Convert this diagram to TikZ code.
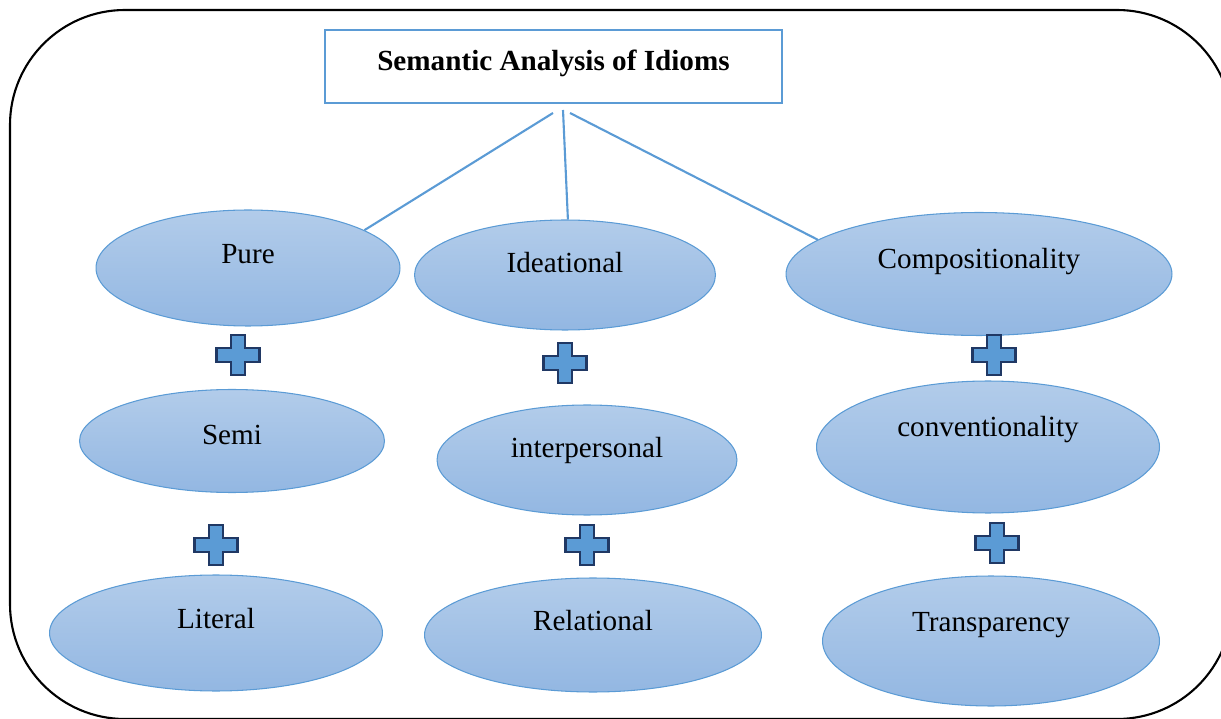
\documentclass[tikz,border=0pt]{standalone}
\usepackage{fontspec}
\setmainfont{Liberation Serif}
\usetikzlibrary{shapes.geometric}

\definecolor{edgeblue}{HTML}{5B9BD5}
\definecolor{bubtop}{HTML}{B2CCEA}
\definecolor{bubbot}{HTML}{93B7E2}
\definecolor{plusdark}{HTML}{203864}

\begin{document}
\begin{tikzpicture}[x=0.02cm,y=-0.02cm]
        \tikzset{bub/.style={draw=edgeblue, line width=0.6pt, ellipse, top color=bubtop, bottom color=bubbot, inner sep=0pt},
        lbl/.style={font=\fontsize{16.6}{20}\selectfont, inner sep=0pt},
        link/.style={draw=edgeblue, line width=1.2pt},
        title/.style={draw=edgeblue, line width=1.2pt, rectangle, minimum width=9.14cm, minimum height=1.46cm, font=\fontsize{16.6}{20}\selectfont\bfseries},
        plus/.pic={\draw[fill=edgeblue, draw=plusdark, line width=1.2pt]
            (-7,-20) -- (7,-20) -- (7,-7) -- (21.5,-7) -- (21.5,7) -- (7,7) -- (7,20)
            -- (-7,20) -- (-7,7) -- (-21.5,7) -- (-21.5,-7) -- (-7,-7) -- cycle;}
        }
        \useasboundingbox (0,0) rectangle (1221,719);
        % frame
        \draw[line width=1.2pt, rounded corners=2.3cm] (10,10) rectangle (1232,719);

        \node[title] (head) at (553.5,66.5) {};
        \node[lbl, font=\fontsize{16.6}{20}\selectfont\bfseries] (headT) at (553.5,63) {Semantic Analysis of Idioms};

%% left column
        \node[bub, minimum width=6.08cm, minimum height=2.32cm] (pure) at (248,268) {};
        \node[lbl] (pureT) at (248,254) {Pure};
        \node[bub, minimum width=6.10cm, minimum height=2.06cm] (semi) at (232,441) {};
        \node[lbl] (semiT) at (232,435) {Semi};
        \node[bub, minimum width=6.66cm, minimum height=2.32cm] (literal) at (216,633) {};
        \node[lbl] (literalT) at (216,619) {Literal};

%% middle column
        \node[bub, minimum width=6.02cm, minimum height=2.20cm] (idea) at (565,275) {};
        \node[lbl] (ideaT) at (565,263) {Ideational};
        \node[bub, minimum width=6.00cm, minimum height=2.20cm] (inter) at (587,460) {};
        \node[lbl] (interT) at (587,450) {interpersonal};
        \node[bub, minimum width=6.74cm, minimum height=2.28cm] (rel) at (593,635) {};
        \node[lbl] (relT) at (593,621) {Relational};

%% right column
        \node[bub, minimum width=7.72cm, minimum height=2.46cm] (comp) at (979,274) {};
        \node[lbl] (compT) at (979,262) {Compositionality};
        \node[bub, minimum width=6.86cm, minimum height=2.64cm] (conv) at (988,447) {};
        \node[lbl] (convT) at (988,430) {conventionality};
        \node[bub, minimum width=6.74cm, minimum height=2.60cm] (transp) at (991,641) {};
        \node[lbl] (transpT) at (991,625) {Transparency};

%% plus signs
        \pic (p1) at (238,355) {plus};
        \pic (p2) at (216,545) {plus};
        \pic (p3) at (565,363) {plus};
        \pic (p4) at (587,545) {plus};
        \pic (p5) at (994,355) {plus};
        \pic (p6) at (997,543) {plus};

%% links
        \coordinate (fromL) at (553,113);
        \coordinate (fromM) at (563,110);
        \coordinate (fromR) at (570,113);
        \path[link] (fromL) -- (pure.18)
                    (fromM) -- (idea.87)
                    (fromR) -- (comp.168);
\end{tikzpicture}
\end{document}
